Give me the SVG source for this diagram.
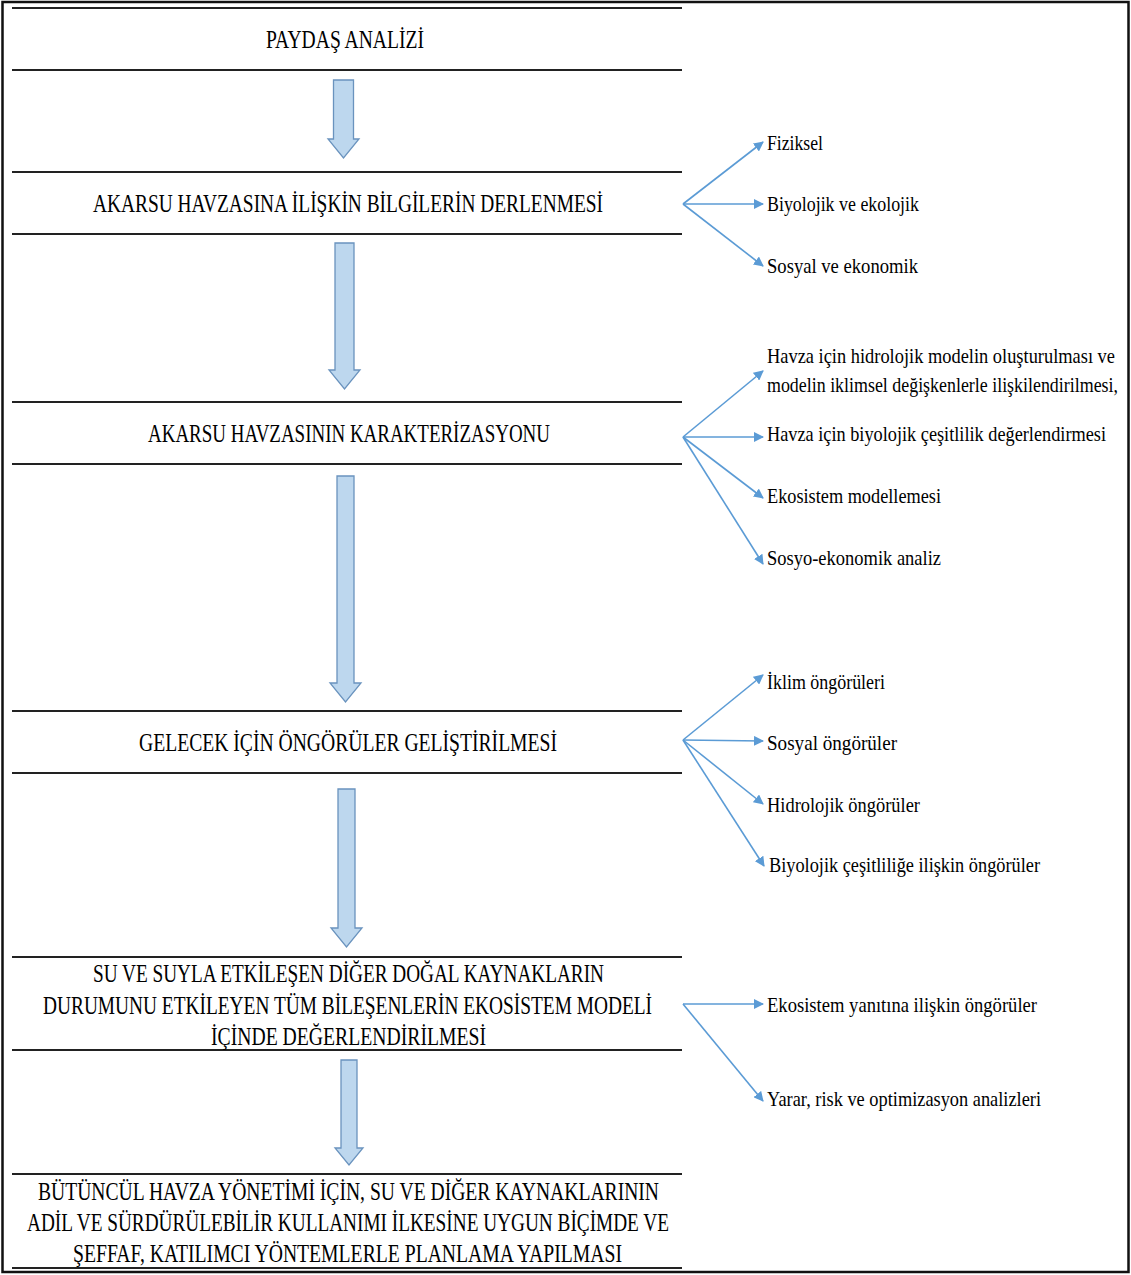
<svg xmlns="http://www.w3.org/2000/svg" width="1131" height="1275" viewBox="0 0 1131 1275">
<style>
.main{font-family:"Liberation Serif","Times New Roman",serif;font-size:25px;fill:#000}
.lbl{font-family:"Liberation Serif","Times New Roman",serif;font-size:21px;fill:#000}
.hl{stroke:#222;stroke-width:2}
.blk{fill:#BDD7EE;stroke:#6A93BE;stroke-width:1.3}
.con{stroke:#5B9BD5;stroke-width:1.6;fill:none;marker-end:url(#ah)}
</style>
<defs>
<marker id="ah" viewBox="0 0 10 10" refX="9" refY="5" markerWidth="10" markerHeight="10" markerUnits="userSpaceOnUse" orient="auto">
<path d="M0,0 L10,5 L0,10 Z" fill="#5B9BD5"/>
</marker>
</defs>
<rect x="0" y="0" width="1131" height="1275" fill="#fff"/>
<rect x="2.5" y="2" width="1126" height="1270" fill="none" stroke="#111" stroke-width="2.5"/>

<g id="lines">
<line class="hl" x1="12" y1="8" x2="682" y2="8"/>
<line class="hl" x1="12" y1="70" x2="682" y2="70"/>
<line class="hl" x1="12" y1="172" x2="682" y2="172"/>
<line class="hl" x1="12" y1="234" x2="682" y2="234"/>
<line class="hl" x1="12" y1="402" x2="682" y2="402"/>
<line class="hl" x1="12" y1="464" x2="682" y2="464"/>
<line class="hl" x1="12" y1="711" x2="682" y2="711"/>
<line class="hl" x1="12" y1="773" x2="682" y2="773"/>
<line class="hl" x1="12" y1="957" x2="682" y2="957"/>
<line class="hl" x1="12" y1="1050" x2="682" y2="1050"/>
<line class="hl" x1="12" y1="1174" x2="682" y2="1174"/>
<line class="hl" x1="12" y1="1268" x2="682" y2="1268"/>
</g>

<g id="n1"><text class="main" x="266" y="48" textLength="158" lengthAdjust="spacingAndGlyphs">PAYDAŞ ANALİZİ</text></g>
<g id="n2"><text class="main" x="93" y="212" textLength="510" lengthAdjust="spacingAndGlyphs">AKARSU HAVZASINA İLİŞKİN BİLGİLERİN DERLENMESİ</text></g>
<g id="n3"><text class="main" x="148" y="442" textLength="402" lengthAdjust="spacingAndGlyphs">AKARSU HAVZASININ KARAKTERİZASYONU</text></g>
<g id="n4"><text class="main" x="139" y="751" textLength="418" lengthAdjust="spacingAndGlyphs">GELECEK İÇİN ÖNGÖRÜLER GELİŞTİRİLMESİ</text></g>
<g id="n5">
<text class="main" x="93" y="982" textLength="511" lengthAdjust="spacingAndGlyphs">SU VE SUYLA ETKİLEŞEN DİĞER DOĞAL KAYNAKLARIN</text>
<text class="main" x="43" y="1014" textLength="609" lengthAdjust="spacingAndGlyphs">DURUMUNU ETKİLEYEN TÜM BİLEŞENLERİN EKOSİSTEM MODELİ</text>
<text class="main" x="211" y="1045" textLength="275" lengthAdjust="spacingAndGlyphs">İÇİNDE DEĞERLENDİRİLMESİ</text>
</g>
<g id="n6">
<text class="main" x="38" y="1200" textLength="621" lengthAdjust="spacingAndGlyphs">BÜTÜNCÜL HAVZA YÖNETİMİ İÇİN, SU VE DİĞER KAYNAKLARININ</text>
<text class="main" x="27" y="1231" textLength="642" lengthAdjust="spacingAndGlyphs">ADİL VE SÜRDÜRÜLEBİLİR KULLANIMI İLKESİNE UYGUN BİÇİMDE VE</text>
<text class="main" x="73" y="1262" textLength="549" lengthAdjust="spacingAndGlyphs">ŞEFFAF, KATILIMCI YÖNTEMLERLE PLANLAMA YAPILMASI</text>
</g>

<g id="arrows">
<path class="blk" d="M333.5,80 H353.5 V139 H359 L343.5,158 L328,139 H333.5 Z"/>
<path class="blk" d="M335,243 H354 V370 H360 L344.5,389 L329,370 H335 Z"/>
<path class="blk" d="M337,476 H354 V683 H361 L345.5,702 L330,683 H337 Z"/>
<path class="blk" d="M338,789 H355 V928 H362 L346.5,947 L331,928 H338 Z"/>
<path class="blk" d="M341,1060 H357 V1148 H363 L349,1165 L335,1148 H341 Z"/>
</g>

<g id="labels">
<text class="lbl" x="767" y="150" textLength="56" lengthAdjust="spacingAndGlyphs">Fiziksel</text>
<text class="lbl" x="767" y="211" textLength="152" lengthAdjust="spacingAndGlyphs">Biyolojik ve ekolojik</text>
<text class="lbl" x="767" y="273" textLength="151" lengthAdjust="spacingAndGlyphs">Sosyal ve ekonomik</text>
<text class="lbl" x="767" y="363" textLength="348" lengthAdjust="spacingAndGlyphs">Havza için hidrolojik modelin oluşturulması ve</text>
<text class="lbl" x="767" y="392" textLength="351" lengthAdjust="spacingAndGlyphs">modelin iklimsel değişkenlerle ilişkilendirilmesi,</text>
<text class="lbl" x="767" y="441" textLength="339" lengthAdjust="spacingAndGlyphs">Havza için biyolojik çeşitlilik değerlendirmesi</text>
<text class="lbl" x="767" y="503" textLength="174" lengthAdjust="spacingAndGlyphs">Ekosistem modellemesi</text>
<text class="lbl" x="767" y="565" textLength="174" lengthAdjust="spacingAndGlyphs">Sosyo-ekonomik analiz</text>
<text class="lbl" x="767" y="689" textLength="118" lengthAdjust="spacingAndGlyphs">İklim öngörüleri</text>
<text class="lbl" x="767" y="750" textLength="130" lengthAdjust="spacingAndGlyphs">Sosyal öngörüler</text>
<text class="lbl" x="767" y="812" textLength="153" lengthAdjust="spacingAndGlyphs">Hidrolojik öngörüler</text>
<text class="lbl" x="769" y="872" textLength="271" lengthAdjust="spacingAndGlyphs">Biyolojik çeşitliliğe ilişkin öngörüler</text>
<text class="lbl" x="767" y="1012" textLength="270" lengthAdjust="spacingAndGlyphs">Ekosistem yanıtına ilişkin öngörüler</text>
<text class="lbl" x="767" y="1106" textLength="274" lengthAdjust="spacingAndGlyphs">Yarar, risk ve optimizasyon analizleri</text>
</g>

<g id="connectors">
<line class="con" x1="683" y1="204" x2="763" y2="142"/>
<line class="con" x1="683" y1="204" x2="763" y2="204"/>
<line class="con" x1="683" y1="204" x2="763" y2="266"/>
<line class="con" x1="683" y1="437" x2="763" y2="371"/>
<line class="con" x1="683" y1="437" x2="763" y2="437"/>
<line class="con" x1="683" y1="437" x2="763" y2="498"/>
<line class="con" x1="683" y1="437" x2="763" y2="564"/>
<line class="con" x1="683" y1="740" x2="763" y2="675"/>
<line class="con" x1="683" y1="740" x2="763" y2="741"/>
<line class="con" x1="683" y1="740" x2="763" y2="804"/>
<line class="con" x1="683" y1="740" x2="764" y2="866"/>
<line class="con" x1="683" y1="1004" x2="763" y2="1004"/>
<line class="con" x1="683" y1="1004" x2="763" y2="1101"/>
</g>
</svg>
